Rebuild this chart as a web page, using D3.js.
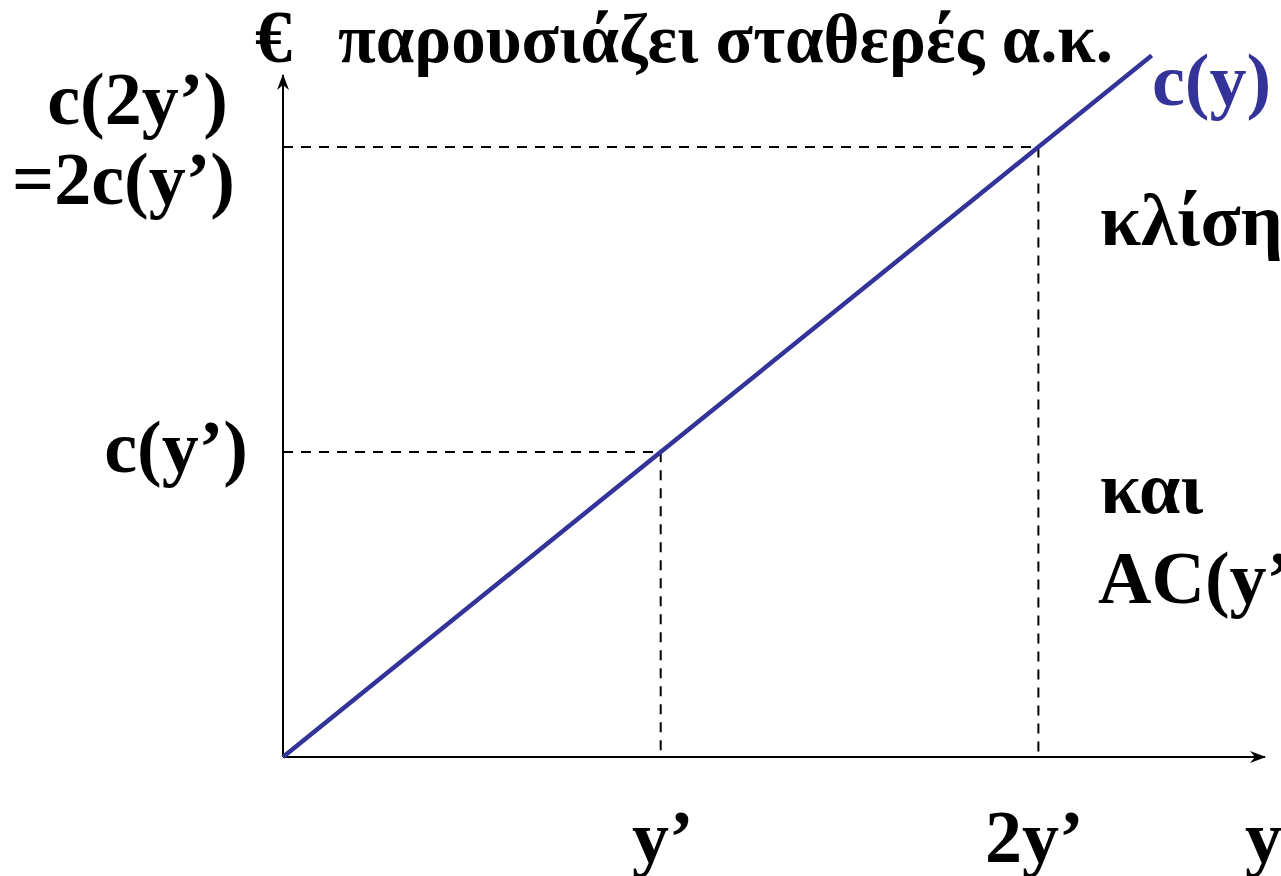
<!DOCTYPE html>
<html>
<head>
<meta charset="utf-8">
<script src="https://cdn.jsdelivr.net/npm/d3@7"></script>
<style>
  body { margin: 0; background: #fff; }
  svg { display: block; }
  text { font-family: "Liberation Serif", "Times New Roman", serif; font-weight: bold; font-size: 74px; fill: #000; }
</style>
</head>
<body>
<svg id="chart" width="1281" height="876"></svg>
<script>
// output quantity (in units of y') and total cost (in units of c(y'))
let quantities = [0, 1, 2, 2.3];
let costs = [0, 1, 2, 2.3];

// reference points marked with dashed guides
let markQty = [1, 2];
let markCost = [1, 2];

let xLabels = ["y’", "2y’", "y"];
let costLabels = [["c(y’)"], ["c(2y’)", "=2c(y’)"]];
let title = "παρουσιάζει σταθερές α.κ.";
let sideNotes = ["κλίση", "και", "AC(y’)"];

let svg = d3.select("#chart");

let x = d3.scaleLinear()
          .domain([0, 2.6])
          .range([283, 1265]);

let y = d3.scaleLinear()
          .domain([0, 2.236])
          .range([757, 75]);

// arrow heads
svg.append("defs").append("marker")
   .attr("id", "arrow")
   .attr("viewBox", "0 0 16 14")
   .attr("refX", 15)
   .attr("refY", 7)
   .attr("markerWidth", 16)
   .attr("markerHeight", 14)
   .attr("markerUnits", "userSpaceOnUse")
   .attr("orient", "auto")
   .append("path")
   .attr("d", "M0,1 L16,7 L0,13 L5,7 Z")
   .attr("fill", "#000");

// Axes:
svg.append("line")
   .attr("x1", x(0)).attr("y1", y(0))
   .attr("x2", x(0)).attr("y2", y.range()[1])
   .attr("stroke", "#000").attr("stroke-width", 2)
   .attr("marker-end", "url(#arrow)");

svg.append("line")
   .attr("x1", x(0)).attr("y1", y(0))
   .attr("x2", x.range()[1]).attr("y2", y(0))
   .attr("stroke", "#000").attr("stroke-width", 2)
   .attr("marker-end", "url(#arrow)");

// dashed guides
markQty.forEach((q, i) => {
  let c = markCost[i];
  svg.append("path")
     .attr("d", `M${x(0)},${y(c)} H${x(q)} V${y(0)}`)
     .attr("fill", "none")
     .attr("stroke", "#000")
     .attr("stroke-width", 2)
     .attr("stroke-dasharray", "10,8");
});

// cost curve
let line = d3.line()
             .x((d, i) => x(quantities[i]))
             .y(d => y(d));

svg.append("path")
   .datum(costs)
   .attr("d", line)
   .attr("fill", "none")
   .attr("stroke", "#333399")
   .attr("stroke-width", 4.5);

// labels
svg.append("text").attr("x", 255).attr("y", 62).text("€");
svg.append("text").attr("x", 338).attr("y", 62)
   .style("font-size", "69px")
   .text(title);

svg.append("text")
   .attr("x", 1152).attr("y", 105)
   .style("fill", "#333399")
   .text("c(y)");

svg.append("text").attr("x", 1100).attr("y", 245).text(sideNotes[0]);
svg.append("text").attr("x", 1100).attr("y", 513).text(sideNotes[1]);
svg.append("text").attr("x", 1098).attr("y", 603).text(sideNotes[2]);

// cost tick labels
svg.append("text")
   .attr("x", 248).attr("y", y(markCost[0]) + 20)
   .attr("text-anchor", "end")
   .text(costLabels[0][0]);

svg.append("text")
   .attr("x", 228).attr("y", y(markCost[1]) - 23)
   .attr("text-anchor", "end")
   .text(costLabels[1][0]);

svg.append("text")
   .attr("x", 235).attr("y", y(markCost[1]) + 57)
   .attr("text-anchor", "end")
   .text(costLabels[1][1]);

// quantity tick labels
svg.append("text").attr("x", 632).attr("y", 862).text(xLabels[0]);
svg.append("text").attr("x", 985).attr("y", 862).text(xLabels[1]);
svg.append("text").attr("x", 1245).attr("y", 862).text(xLabels[2]);
</script>
</body>
</html>
